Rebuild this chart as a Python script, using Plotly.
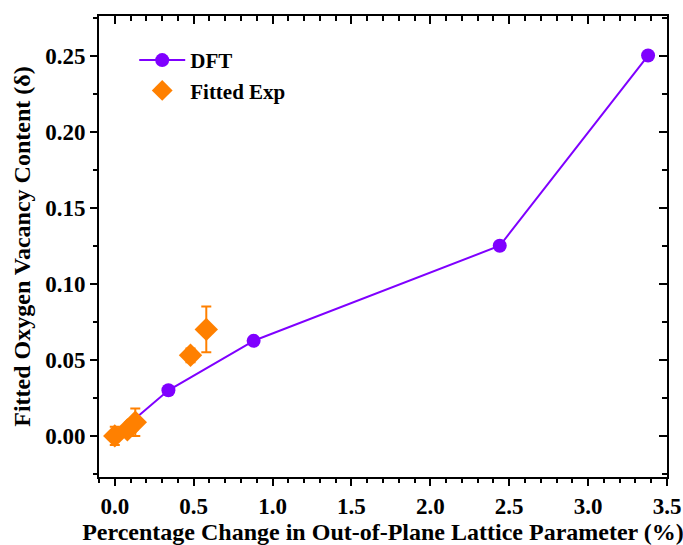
import plotly.graph_objects as go

# DFT calculated oxygen vacancy content vs. out-of-plane lattice change
dft_x = [0.0, 0.34, 0.88, 2.44, 3.38]
dft_y = [0.0, 0.030, 0.0625, 0.125, 0.25]

# Experimentally fitted values with uncertainties
exp_x = [0.0, 0.08, 0.13, 0.48, 0.58]
exp_y = [0.0, 0.004, 0.009, 0.053, 0.070]
exp_err = [0.006, 0.003, 0.009, 0.0045, 0.015]

PURPLE = "#7F00FF"
ORANGE = "#FF8000"
FONT = "Liberation Serif"

x_range = [-0.1, 3.5]
y_range = [-0.027, 0.276]

fig = go.Figure()

fig.add_trace(go.Scatter(
    x=dft_x, y=dft_y, mode="lines+markers", name="DFT",
    line=dict(color=PURPLE, width=2),
    marker=dict(color=PURPLE, size=14, symbol="circle"),
))

fig.add_trace(go.Scatter(
    x=exp_x, y=exp_y, mode="markers", name="Fitted Exp",
    marker=dict(color=ORANGE, size=18, symbol="diamond"),
    error_y=dict(type="data", array=exp_err, visible=True,
                 color=ORANGE, thickness=2, width=5),
))

tick_font = dict(family=FONT, size=23, color="black", weight="bold")
title_font = dict(family=FONT, size=24, color="black", weight="bold")

fig.update_layout(
    width=683, height=545,
    margin=dict(l=99, r=16, t=16, b=68, autoexpand=False),
    plot_bgcolor="white", paper_bgcolor="white",
    font=dict(family=FONT, color="black"),
    showlegend=True,
    legend=dict(
        x=0.062, y=0.948, xanchor="left", yanchor="top",
        bgcolor="rgba(0,0,0,0)",
        font=dict(family=FONT, size=21, color="black", weight="bold"),
        itemwidth=46,
    ),
    xaxis=dict(
        showgrid=False, zeroline=False, showline=True, automargin=False,
        linecolor="black", linewidth=2, tickcolor="black", tickwidth=2,
        tickfont=tick_font,
        range=x_range, tickmode="linear", tick0=0, dtick=0.5,
        tickformat=".1f", ticks="outside", ticklen=7,
        minor=dict(dtick=0.1, tick0=0, ticks="outside", ticklen=4,
                   tickwidth=2, tickcolor="black"),
        title=dict(text="Percentage Change in Out-of-Plane Lattice Parameter (%)",
                   font=title_font, standoff=4),
    ),
    yaxis=dict(
        showgrid=False, zeroline=False, showline=True, automargin=False,
        linecolor="black", linewidth=2, tickcolor="black", tickwidth=2,
        tickfont=tick_font,
        range=y_range, tickmode="linear", tick0=0, dtick=0.05,
        tickformat=".2f", ticks="outside", ticklen=7,
        minor=dict(dtick=0.025, tick0=0, ticks="outside", ticklen=4,
                   tickwidth=2, tickcolor="black"),
        title=dict(text="Fitted Oxygen Vacancy Content (δ)",
                   font=title_font, standoff=8),
    ),
    # Top and right frame edges with inward ticks
    xaxis2=dict(
        overlaying="x", side="top", matches="x", range=x_range,
        automargin=False,
        showgrid=False, zeroline=False, showline=True,
        linecolor="black", linewidth=2, showticklabels=False,
        tickmode="linear", tick0=0, dtick=0.5, ticks="inside", ticklen=8,
        tickwidth=2, tickcolor="black",
        minor=dict(dtick=0.1, tick0=0, ticks="inside", ticklen=5,
                   tickwidth=2, tickcolor="black"),
    ),
    yaxis2=dict(
        overlaying="y", side="right", matches="y", range=y_range,
        automargin=False,
        showgrid=False, zeroline=False, showline=True,
        linecolor="black", linewidth=2, showticklabels=False,
        tickmode="linear", tick0=0, dtick=0.05, ticks="inside", ticklen=8,
        tickwidth=2, tickcolor="black",
        minor=dict(dtick=0.025, tick0=0, ticks="inside", ticklen=5,
                   tickwidth=2, tickcolor="black"),
    ),
)

# Invisible trace anchoring the mirrored axes
fig.add_trace(go.Scatter(x=[None], y=[None], xaxis="x2", yaxis="y2",
                         showlegend=False, hoverinfo="skip"))

fig.write_html("out.html")
